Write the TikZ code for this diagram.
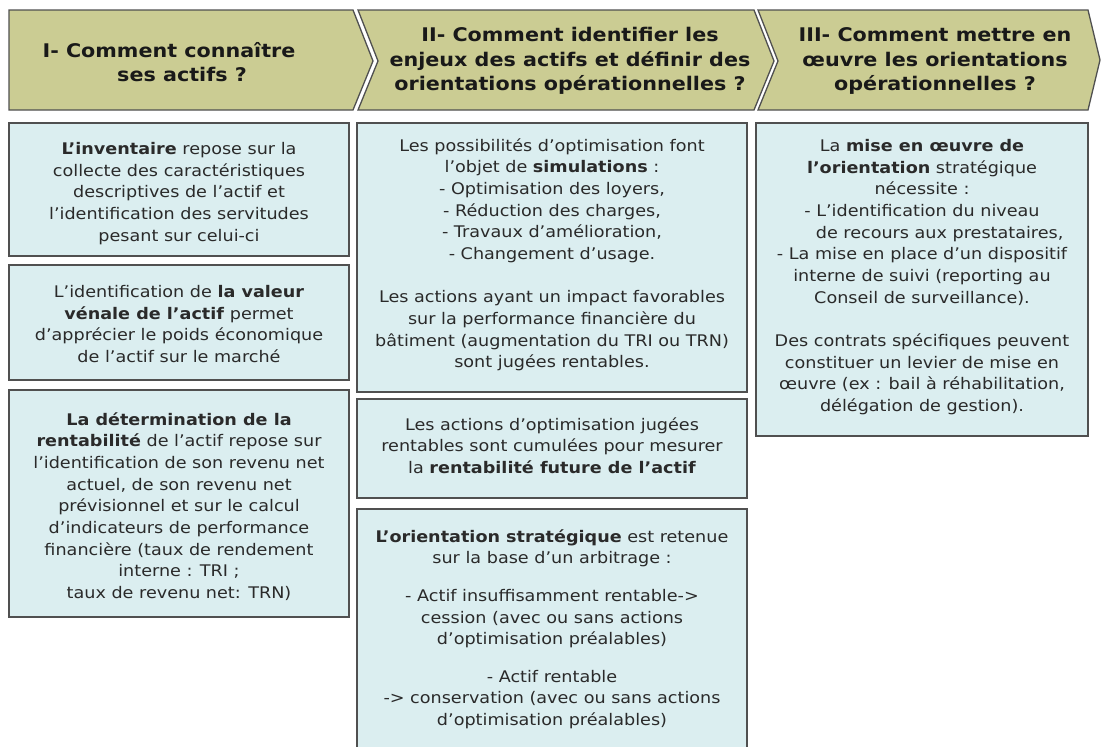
\documentclass[tikz,border=0pt]{standalone}
\usepackage{fontspec}
\setmainfont{DejaVu Sans}[FakeStretch=1.1]
\definecolor{hdr}{HTML}{CBCC93}
\definecolor{bx}{HTML}{DBEEF0}
\definecolor{bd}{HTML}{505050}
\definecolor{tx}{HTML}{2A2A2A}
\begin{document}
\begin{tikzpicture}[x=1pt,y=-1pt,
  hdrshape/.style={draw=bd, fill=hdr, line width=1.3pt, line join=miter},
  boxshape/.style={draw=bd, fill=bx, line width=1.3pt},
  body/.style={text=tx, align=center, font=\fontsize{16}{21.7}\selectfont, anchor=north, inner sep=0pt},
  head/.style={text=black!90, align=center, font=\fontsize{18.8}{24.5}\selectfont\bfseries, inner sep=0pt}]
\useasboundingbox (0,0) rectangle (1101,747);
\fill[white] (0,0) rectangle (1101,747);
% header chevrons
\draw[hdrshape] (9,10) -- (353,10) -- (373,61) -- (353,110) -- (9,110) -- cycle;
\draw[hdrshape] (358,10) -- (754,10) -- (774,61) -- (754,110) -- (358,110) -- (378,61) -- cycle;
\draw[hdrshape] (758,10) -- (1088,10) -- (1100,60) -- (1088,110) -- (758,110) -- (778,61) -- cycle;
\node[head] (h1) at (182,62) {I- Comment connaître\hspace*{26pt}\\ses actifs ?};
\node[head] (h2) at (570,61) {II- Comment identifier les\\enjeux des actifs et définir des\\orientations opérationnelles ?};
\node[head] (h3) at (935,61) {III- Comment mettre en\\œuvre les orientations\\opérationnelles ?};
% column 1
\draw[boxshape] (9,123) rectangle (349,256);
\draw[boxshape] (9,265) rectangle (349,380);
\draw[boxshape] (9,390) rectangle (349,617);
\node[body] (a1) at (179,142) {\textbf{L’inventaire} repose sur la\\collecte des caractéristiques\\descriptives de l’actif et\\l’identification des servitudes\\pesant sur celui-ci};
\node[body] (a2) at (179,285) {L’identification de \textbf{la valeur}\\\textbf{vénale de l’actif} permet\\d’apprécier le poids économique\\de l’actif sur le marché};
\node[body] (a3) at (179,412) {\textbf{La détermination de la}\\\textbf{rentabilité} de l’actif repose sur\\l’identification de son revenu net\\actuel, de son revenu net\\prévisionnel et sur le calcul\\d’indicateurs de performance\\financière (taux de rendement\\interne : TRI ;\\ taux de revenu net: TRN)};
% column 2
\draw[boxshape] (357,123) rectangle (747,392);
\draw[boxshape] (357,399) rectangle (747,498);
\draw[boxshape] (357,509) rectangle (747,760);
\node[body] (b1) at (552,138) {Les possibilités d’optimisation font\\l’objet de \textbf{simulations} :\\- Optimisation des loyers,\\- Réduction des charges,\\- Travaux d’amélioration,\\- Changement d’usage.\\[21.5pt]Les actions ayant un impact favorables\\sur la performance financière du\\bâtiment (augmentation du TRI ou TRN)\\sont jugées rentables.};
\node[body] (b2) at (552,417) {Les actions d’optimisation jugées\\rentables sont cumulées pour mesurer\\la \textbf{rentabilité future de l’actif}};
\node[body] (b3) at (552,529) {\textbf{L’orientation stratégique} est retenue\\sur la base d’un arbitrage :\\[16pt]- Actif insuffisamment rentable->\\cession (avec ou sans actions\\d’optimisation préalables)\\[15.5pt]- Actif rentable\\-> conservation (avec ou sans actions\\d’optimisation préalables)};
% column 3
\draw[boxshape] (756,123) rectangle (1088,436);
\node[body] (c1) at (922,139) {La \textbf{mise en œuvre de}\\\textbf{l’orientation} stratégique\\nécessite :\\- L’identification du niveau\\\hspace*{2.2em}de recours aux prestataires,\\- La mise en place d’un dispositif\\interne de suivi (reporting au\\Conseil de surveillance).\\[21.5pt]Des contrats spécifiques peuvent\\constituer un levier de mise en\\œuvre (ex : bail à réhabilitation,\\délégation de gestion).};
\end{tikzpicture}
\end{document}
